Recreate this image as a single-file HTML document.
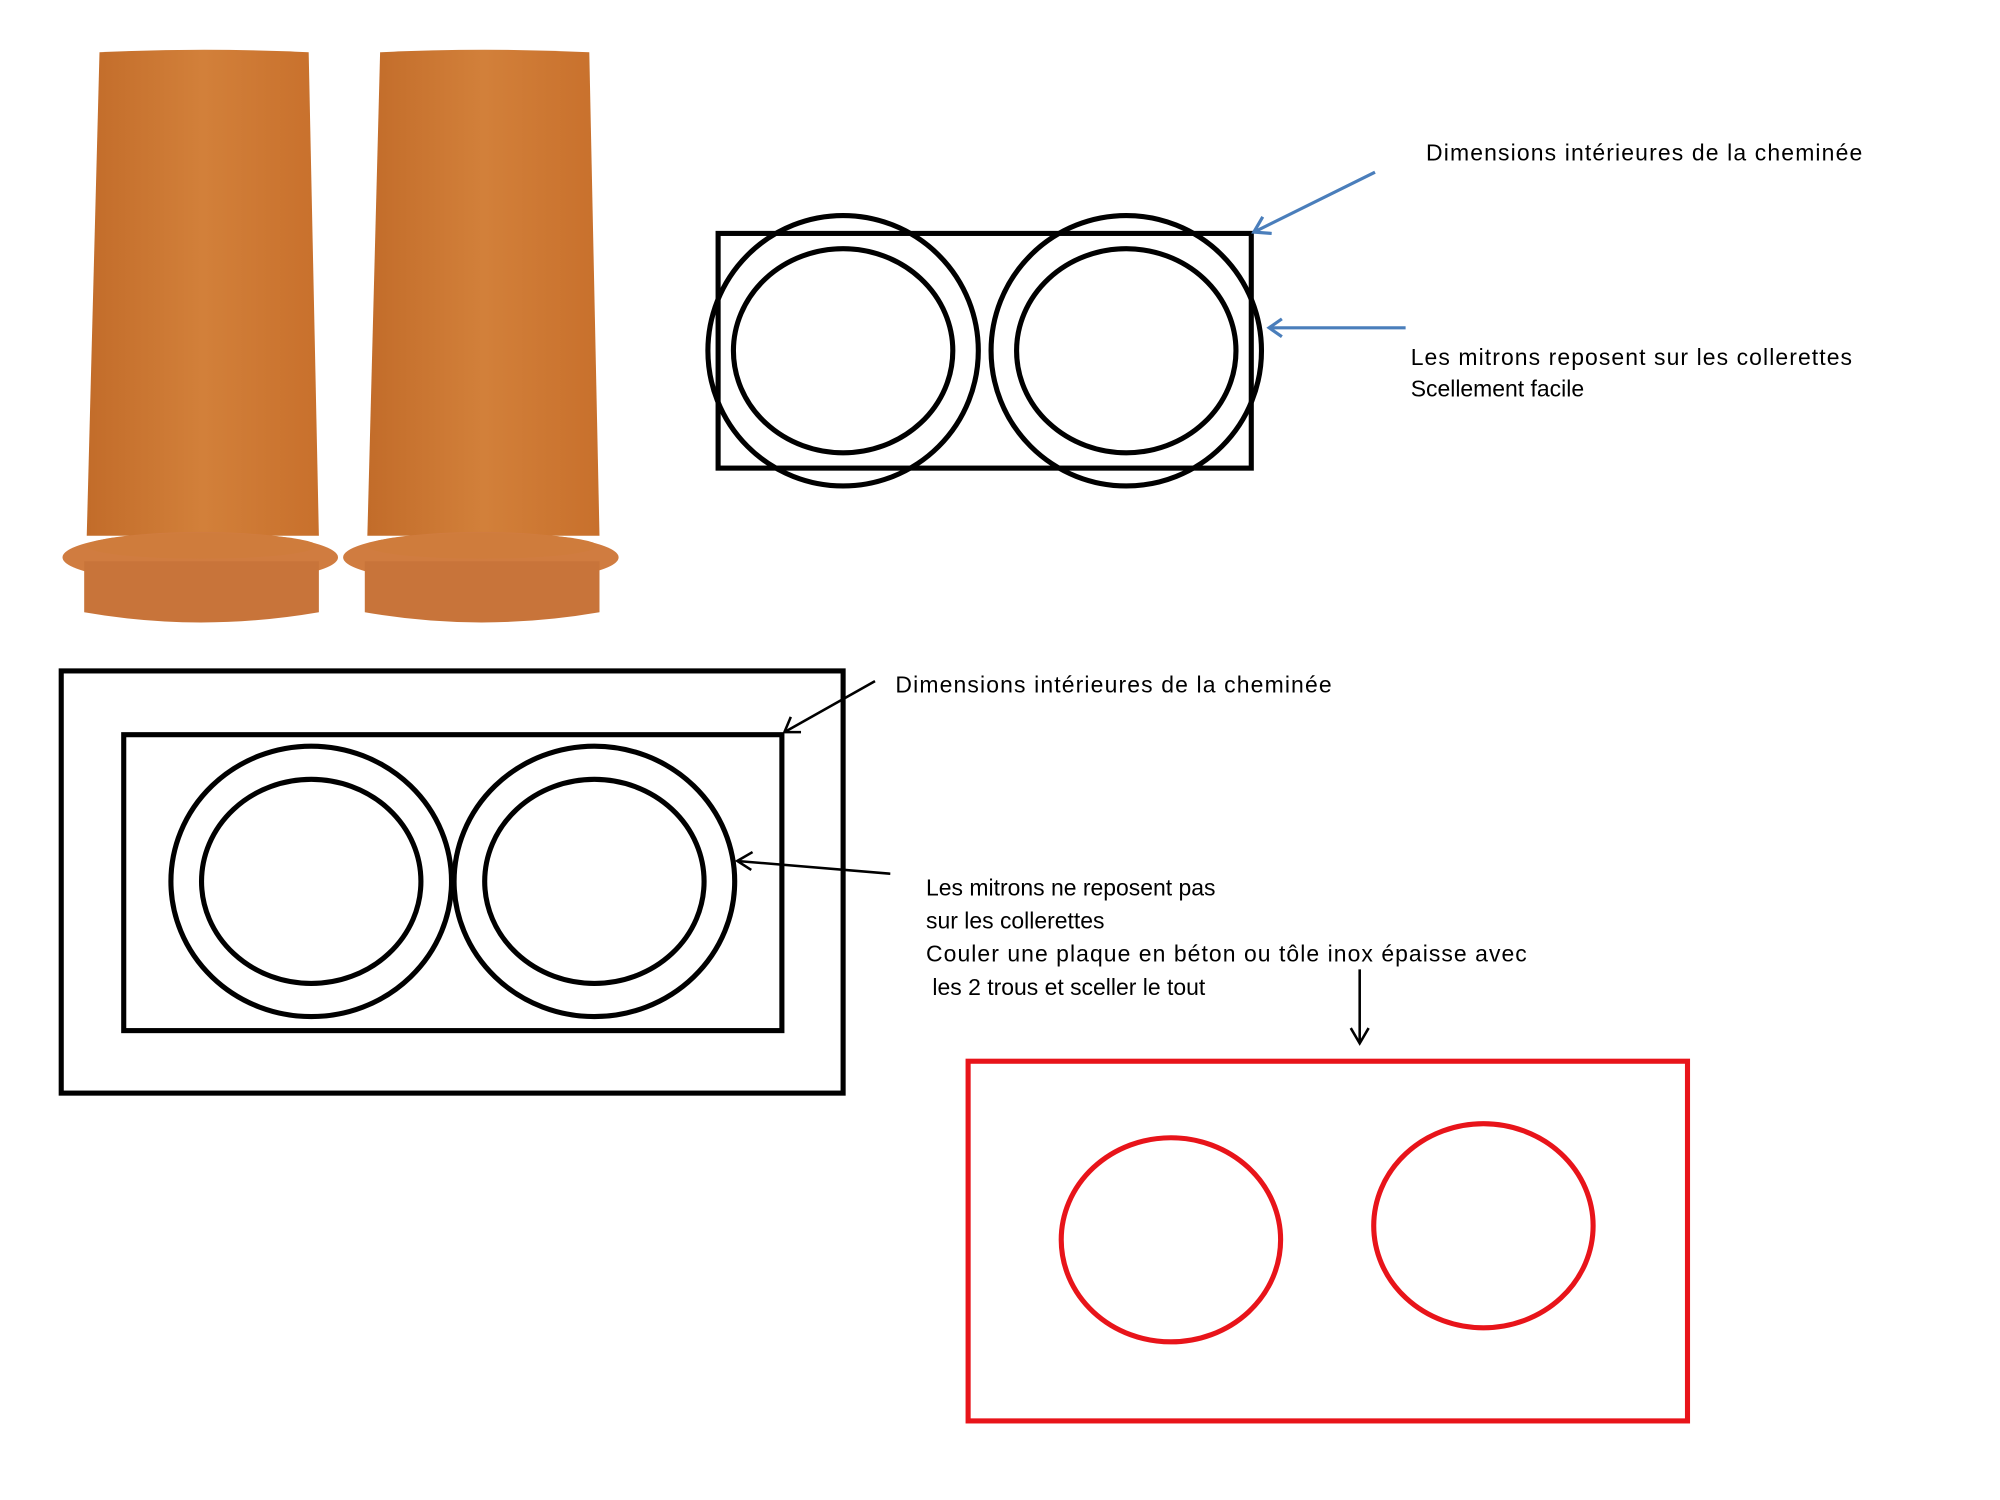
<!DOCTYPE html>
<html><head><meta charset="utf-8"><style>html,body{margin:0;padding:0;background:#fff;}svg{display:block}</style></head>
<body>
<svg width="2000" height="1500" viewBox="0 0 1568 1176" xmlns="http://www.w3.org/2000/svg" font-family="Liberation Sans, sans-serif" font-size="17">
<defs>
<linearGradient id="pg" x1="0" x2="1" y1="0" y2="0">
<stop offset="0" stop-color="#c26c2a"/><stop offset="0.5" stop-color="#d2803a"/><stop offset="1" stop-color="#c8702c"/>
</linearGradient>
</defs>
<g id="pot">
<path d="M78 41 Q160 37 242 41 L250 420 L68 420 Z" fill="url(#pg)"/>
<ellipse cx="157" cy="437" rx="108" ry="20" fill="#d07c40"/>
<path d="M66 440 L250 440 L250 480 Q157 496 66 480 Z" fill="#c8743a"/>
<ellipse cx="158" cy="428" rx="90" ry="10" fill="#cf7c3c"/>
</g>
<use href="#pot" x="220"/>
<g fill="none" stroke="#000" stroke-width="4">
<rect x="563" y="183" width="418" height="184"/>
<circle cx="661" cy="275" r="106"/><ellipse cx="661" cy="275" rx="86" ry="80"/>
<circle cx="883" cy="275" r="106"/><ellipse cx="883" cy="275" rx="86" ry="80"/>
<rect x="48" y="526" width="613" height="331"/>
<rect x="97" y="576" width="516" height="232"/>
<ellipse cx="244" cy="691" rx="110" ry="106"/><ellipse cx="244" cy="691" rx="86" ry="80"/>
<ellipse cx="466" cy="691" rx="110" ry="106"/><ellipse cx="466" cy="691" rx="86" ry="80"/>
</g>
<g stroke="#4a7ebb" stroke-width="2.5" fill="none">
<line x1="1078" y1="135" x2="983" y2="182"/><path d="M990 170 L983 182 L997 183"/>
<line x1="1102" y1="257" x2="995" y2="257"/><path d="M1005 250 L995 257 L1005 264"/>
</g>
<g stroke="#000" stroke-width="2" fill="none">
<line x1="686" y1="534" x2="615" y2="574"/><path d="M620 562 L615 574 L628 574"/>
<line x1="698" y1="685" x2="578" y2="675"/><path d="M590 668 L578 675 L589 682"/>
<line x1="1066" y1="760" x2="1066" y2="818"/><path d="M1059 806 L1066 818 L1073 806"/>
</g>
<g fill="none" stroke="#e8141a" stroke-width="4">
<rect x="759" y="832" width="564" height="282"/>
<ellipse cx="918" cy="972" rx="86" ry="80"/>
<ellipse cx="1163" cy="961" rx="86" ry="80"/>
</g>
<g fill="#000" font-size="18">
<text x="1118" y="126" textLength="342">Dimensions intérieures de la cheminée</text>
<text x="1106" y="286" textLength="346">Les mitrons reposent sur les collerettes</text>
<text x="1106" y="311">Scellement facile</text>
<text x="702" y="543" textLength="342">Dimensions intérieures de la cheminée</text>
<text x="726" y="702">Les mitrons ne reposent pas</text>
<text x="726" y="728">sur les collerettes</text>
<text x="726" y="754" textLength="471">Couler une plaque en béton ou tôle inox épaisse avec</text>
<text x="731" y="780">les 2 trous et sceller le tout</text>
</g>
</svg>
</body></html>
